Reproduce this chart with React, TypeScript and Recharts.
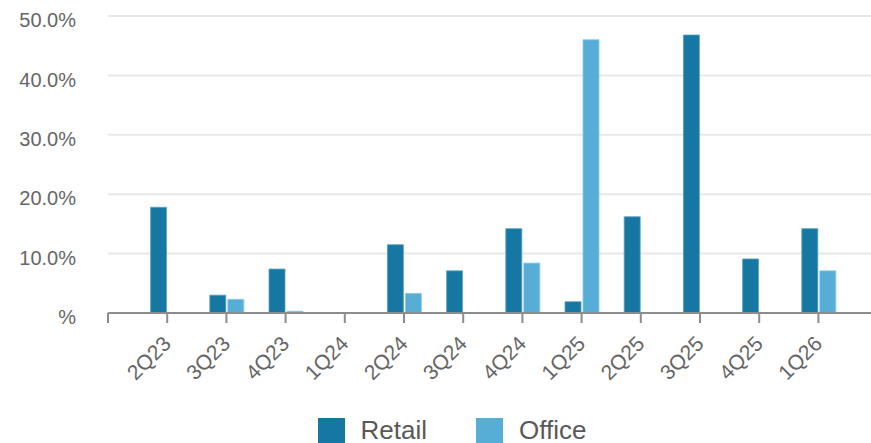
import { BarChart, Bar, XAxis, YAxis, CartesianGrid, Legend } from 'recharts'

const C = {
  retail: '#1678a2', office: '#56aed6',
  grid: '#e8e8e8', axis: '#8c8c8c', text: '#666666', legend: '#595959',
}
const FONT = '"Liberation Sans", Arial, sans-serif'

// leading blank slot gives the extra tick at the axis start
const quarters = ['', '2Q23', '3Q23', '4Q23', '1Q24', '2Q24', '3Q24', '4Q24', '1Q25', '2Q25', '3Q25', '4Q25', '1Q26']
const retail = [null, 17.8, 3.0, 7.4, 0, 11.5, 7.1, 14.2, 1.9, 16.2, 46.8, 9.1, 14.2]
const office = [null, 0, 2.3, 0.3, 0, 3.3, 0, 8.4, 46.0, 0, 0, 0, 7.1]
const yTicks = [0, 10, 20, 30, 40, 50]
const series = [
  { key: 'retail', name: 'Retail', color: C.retail, edge: '#5c9fc0' },
  { key: 'office', name: 'Office', color: C.office, edge: '#8cc8e4' },
]

const data = quarters.map((q, i) => ({ q, retail: retail[i], office: office[i] }))

const XTick = ({ x, y, payload }: any) => {
  const tx = x + 5
  const ty = y + 20
  return (
    <text x={tx} y={ty} transform={`rotate(-45 ${tx} ${ty})`} textAnchor="end"
      fill={C.text} fontSize={21} fontFamily={FONT}>
      {payload.value}
    </text>
  )
}

const LegendBox = () => (
  <div style={{ display: 'flex', justifyContent: 'center', paddingLeft: 33, gap: 49, fontFamily: FONT }}>
    {series.map(s => (
      <div key={s.key} style={{ display: 'flex', alignItems: 'center', gap: 16 }}>
        <span style={{ width: 27, height: 25, background: s.color, display: 'inline-block' }} />
        <span style={{ fontSize: 26, color: C.legend, lineHeight: '25px' }}>{s.name}</span>
      </div>
    ))}
  </div>
)

export default function App() {
  return (
    <div style={{ position: 'absolute', left: 0, top: 0, width: 871, height: 443, background: '#fff' }}>
      <BarChart width={871} height={443} data={data} barSize={16} barGap={2}
        margin={{ top: 16, right: 0, bottom: 0, left: 8 }}>
        <CartesianGrid vertical={false} stroke={C.grid} strokeWidth={2} />
        <XAxis dataKey="q" interval={0} padding={{ left: -29.6, right: 23 }} height={105}
          axisLine={{ stroke: C.axis, strokeWidth: 2 }} tickLine={{ stroke: C.axis, strokeWidth: 2 }}
          tickSize={10} tick={<XTick />} />
        <YAxis domain={[0, 50]} ticks={yTicks} width={100} axisLine={false} tickLine={false} tickMargin={26}
          tickFormatter={(v: number) => v === 0 ? '%' : v.toFixed(1) + '%'}
          tick={{ fill: C.text, fontSize: 20, fontFamily: FONT, dy: 4 }} />
        <Legend content={<LegendBox />} wrapperStyle={{ top: 418, left: 0, width: 871 }} />
        {series.map(s => (
          <Bar key={s.key} dataKey={s.key} name={s.name} fill={s.color} stroke={s.edge} strokeWidth={0.8}
            isAnimationActive={false} />
        ))}
      </BarChart>
    </div>
  )
}
